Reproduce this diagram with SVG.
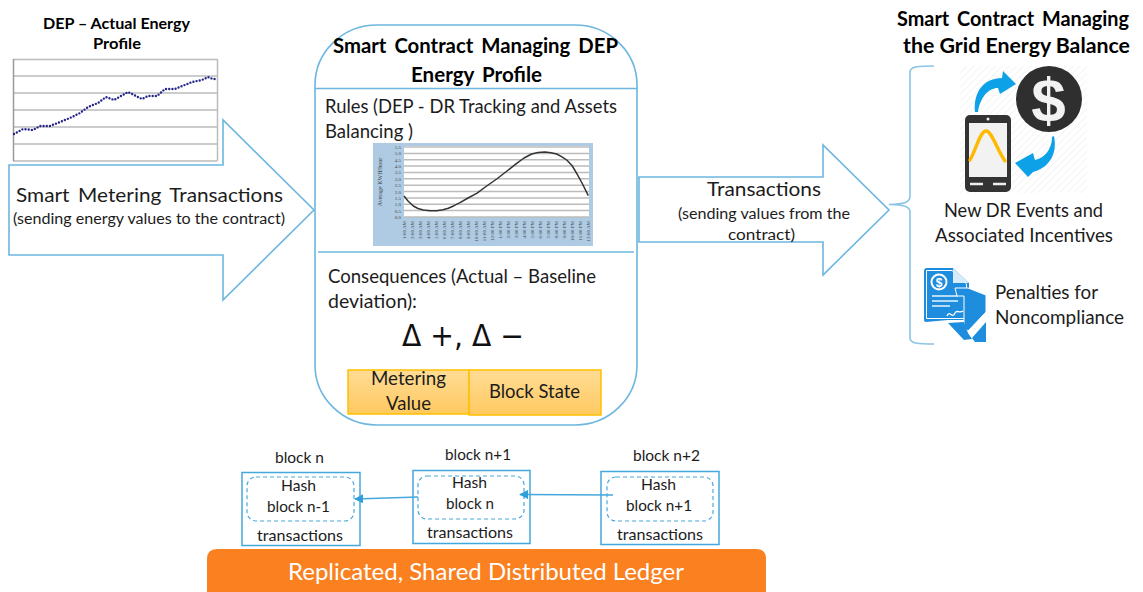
<svg xmlns="http://www.w3.org/2000/svg" width="1143" height="592" viewBox="0 0 1143 592">
<style>
text{font-family:Lato,"Liberation Sans",sans-serif;fill:#1c1c1c}
.t{font-size:19px}.s{font-size:14.5px}.m{font-size:15px}.b{font-weight:700;font-size:20px;fill:#000}
.w{word-spacing:3px}
.o{fill:#fff;stroke:#6db6df;stroke-width:1.6}
.bx{fill:#fff;stroke:#45a8dc;stroke-width:1.5}
.d{fill:#fff;stroke:#45a8dc;stroke-width:1.2;stroke-dasharray:4 3}
.g{stroke:#bcbcbc;stroke-width:1.5;fill:none}
.tk{font-family:"Liberation Serif",serif;font-size:5px;fill:#444}
.cell{fill:url(#gold);stroke:#ffc000;stroke-width:1.5}
</style>
<defs>
<linearGradient id="gold" x1="0" y1="0" x2="0" y2="1"><stop offset="0" stop-color="#ffdc96"/><stop offset="1" stop-color="#ffc95f"/></linearGradient>
<pattern id="hatch" width="5" height="5" patternUnits="userSpaceOnUse" patternTransform="rotate(-45)"><rect width="5" height="5" fill="#fff"/><rect width="5" height="1" fill="#f4f4f4"/></pattern>
<marker id="ah" viewBox="0 0 10 10" refX="9" refY="5" markerWidth="9" markerHeight="9" orient="auto" markerUnits="userSpaceOnUse"><path d="M0 0L10 5L0 10z" fill="#2e9fd8"/></marker>
</defs>
<rect width="1143" height="592" fill="#fff"/>

<g id="actual-profile">
<text class="b" style="font-size:14.5px" x="43" y="29" textLength="147" lengthAdjust="spacingAndGlyphs">DEP – Actual Energy</text>
<text class="b" style="font-size:14.5px" x="93" y="49" textLength="48" lengthAdjust="spacingAndGlyphs">Profile</text>
<path class="g" d="M13 59.500H217M13 76H217M13 93H217M13 110H217M13 127H217M13 144H217M13 161H217M217.500 59V161"/>
<path d="M13.500 59V161" stroke="#999" stroke-width="1.5" fill="none"/>
<polyline fill="none" stroke="#26268a" stroke-width="2.400" stroke-linecap="round" stroke-dasharray="0 3.200" points="14,134 23,129 33,130 40,126 50,126 60,122 70,118 80,113 88,107 98,103 106,97 114,100 128,92 142,99 148,96 157,96 165,89 175,89 192,82 202,80 208,77 213,79 217,79"/>
</g>

<g id="smart-metering-arrow">
<path class="o" d="M9 165H223V120L314 210L223 300V255H9Z"/>
<text class="t w" x="16" y="202" textLength="267" lengthAdjust="spacingAndGlyphs">Smart Metering Transactions</text>
<text class="s" x="13" y="224" textLength="272" lengthAdjust="spacingAndGlyphs">(sending energy values to the contract)</text>
</g>

<g id="contract">
<rect x="315" y="25" width="322" height="400" rx="62" ry="60" class="o"/>
<path d="M315 88.500H637M318 252H634" fill="none" stroke="#6db6df" stroke-width="1.500"/>
<text class="b w" x="333" y="53" textLength="285" lengthAdjust="spacingAndGlyphs">Smart Contract Managing DEP</text>
<text class="b w" x="411" y="82" textLength="131" lengthAdjust="spacingAndGlyphs">Energy Profile</text>
<text class="t" x="325" y="113" textLength="292" lengthAdjust="spacingAndGlyphs">Rules (DEP - DR Tracking and Assets</text>
<text class="t" x="325" y="138" textLength="88" lengthAdjust="spacingAndGlyphs">Balancing )</text>
<g id="baseline-chart">
<rect x="373" y="143" width="220" height="103" fill="#afcbe3"/>
<rect x="404" y="146" width="185" height="71" fill="#fff"/>
<path class="g" d="M404 147H589M404 153.400H589M404 159.700H589M404 166.100H589M404 172.500H589M404 178.800H589M404 185.200H589M404 191.500H589M404 197.900H589M404 204.300H589M404 210.600H589M404 217H589"/>
<polyline fill="none" stroke="#333" stroke-width="1.500" stroke-linejoin="round" points="404,196 408,201 413.300,206 418,208.500 423.300,210 430,210.800 436.700,210.700 443,209.800 448.300,208.300 454,205.700 460,202.700 468,198 476.700,193.300 486,186.500 496.700,179 507,171 516.700,163.300 524,158 531.700,154 538,152.500 545,152 551,152.700 556.700,154 562,156.800 566.700,160 572,165.500 576.700,173.300 582,183 588.300,195.700"/>
<g class="tk" text-anchor="end">
<text class="tk" x="401" y="149">5.5</text><text class="tk" x="401" y="155.300">5.0</text><text class="tk" x="401" y="161.700">4.5</text><text class="tk" x="401" y="168">4.0</text><text class="tk" x="401" y="174.400">3.5</text><text class="tk" x="401" y="180.800">3.0</text><text class="tk" x="401" y="187.100">2.5</text><text class="tk" x="401" y="193.500">2.0</text><text class="tk" x="401" y="199.800">1.5</text><text class="tk" x="401" y="206.200">1.0</text><text class="tk" x="401" y="212.600">0.5</text><text class="tk" x="401" y="219">0.0</text>
<text class="tk" style="font-size:6px" transform="translate(382,182) rotate(-90)" text-anchor="middle">Average KWH/hour</text>
<text class="tk" transform="translate(405.500,221) rotate(-90)">1:00 AM</text><text class="tk" transform="translate(413.500,221) rotate(-90)">2:00 AM</text><text class="tk" transform="translate(421.500,221) rotate(-90)">3:00 AM</text><text class="tk" transform="translate(429.500,221) rotate(-90)">4:00 AM</text><text class="tk" transform="translate(437.500,221) rotate(-90)">5:00 AM</text><text class="tk" transform="translate(445.500,221) rotate(-90)">6:00 AM</text><text class="tk" transform="translate(453.500,221) rotate(-90)">7:00 AM</text><text class="tk" transform="translate(461.500,221) rotate(-90)">8:00 AM</text><text class="tk" transform="translate(469.500,221) rotate(-90)">9:00 AM</text><text class="tk" transform="translate(477.500,221) rotate(-90)">10:00 AM</text><text class="tk" transform="translate(485.500,221) rotate(-90)">11:00 AM</text><text class="tk" transform="translate(493.500,221) rotate(-90)">12:00 PM</text><text class="tk" transform="translate(501.500,221) rotate(-90)">1:00 PM</text><text class="tk" transform="translate(509.500,221) rotate(-90)">2:00 PM</text><text class="tk" transform="translate(517.500,221) rotate(-90)">3:00 PM</text><text class="tk" transform="translate(525.500,221) rotate(-90)">4:00 PM</text><text class="tk" transform="translate(533.500,221) rotate(-90)">5:00 PM</text><text class="tk" transform="translate(541.500,221) rotate(-90)">6:00 PM</text><text class="tk" transform="translate(549.500,221) rotate(-90)">7:00 PM</text><text class="tk" transform="translate(557.500,221) rotate(-90)">8:00 PM</text><text class="tk" transform="translate(565.500,221) rotate(-90)">9:00 PM</text><text class="tk" transform="translate(573.500,221) rotate(-90)">10:00 PM</text><text class="tk" transform="translate(581.500,221) rotate(-90)">11:00 PM</text><text class="tk" transform="translate(589.500,221) rotate(-90)">12:00 AM</text>
</g>
</g>
<text class="t" x="328" y="283" textLength="268" lengthAdjust="spacingAndGlyphs">Consequences (Actual – Baseline</text>
<text class="t" x="328" y="308" textLength="89" lengthAdjust="spacingAndGlyphs">deviation):</text>
<text x="402" y="346" textLength="122" lengthAdjust="spacingAndGlyphs" style="font-family:'DejaVu Sans',sans-serif;font-size:30px;fill:#111">Δ +, Δ −</text>
</g>

<g id="metering-value">
<rect class="cell" x="348" y="370" width="121" height="44"/>
<text class="t" x="371" y="385" textLength="75" lengthAdjust="spacingAndGlyphs">Metering</text>
<text class="t" x="386" y="410" textLength="45" lengthAdjust="spacingAndGlyphs">Value</text>
</g>
<g id="block-state">
<rect class="cell" x="469" y="370" width="132" height="45"/>
<text class="t" x="489" y="398" textLength="91" lengthAdjust="spacingAndGlyphs">Block State</text>
</g>

<g id="transactions-arrow">
<path class="o" d="M639 177H823V145L889 210L823 275V242H639Z"/>
<text class="t" x="707" y="196" textLength="114" lengthAdjust="spacingAndGlyphs">Transactions</text>
<text class="s" x="678" y="219" textLength="172" lengthAdjust="spacingAndGlyphs">(sending values from the</text>
<text class="s" x="728" y="240" textLength="67" lengthAdjust="spacingAndGlyphs">contract)</text>
</g>

<g id="grid-balance">
<text class="b w" x="897" y="26" textLength="232" lengthAdjust="spacingAndGlyphs">Smart Contract Managing</text>
<text class="b" x="903" y="53" textLength="227" lengthAdjust="spacingAndGlyphs">the Grid Energy Balance</text>
<path d="M934 66C920 66 910 66 910 72V196C910 203 903 204 889 204.500C903 205 910 206 910 212V338C910 344 920 344 934 344" fill="none" stroke="#8ac4e6" stroke-width="1.600"/>
<g id="dr-icon">
<rect x="960" y="66" width="127" height="127" fill="url(#hatch)"/>
<circle cx="1049" cy="99" r="33" fill="#2f2f2f"/>
<text x="1048.500" y="121" text-anchor="middle" style="font-family:'Liberation Sans',sans-serif;font-size:62px;font-weight:700;fill:#f2f2f2">$</text>
<rect x="965" y="115" width="46" height="77" rx="5" fill="#333"/>
<rect x="969" y="123" width="38" height="54" fill="#f2f2f2"/>
<circle cx="988" cy="119" r="1.500" fill="#eee"/>
<path d="M970 184H983M993 184H1006" stroke="#eee" stroke-width="2.500"/>
<path d="M970 160C976 150 980 131 986 131C992 131 997 150 1005 161" fill="none" stroke="#ffb900" stroke-width="3.400" stroke-linecap="round"/>
<path d="M975 112C973 92 984 78 1002 78L1003 71L1016 84L1000 94L998 88C988 88 980 98 978 112Z" fill="#0da2e7"/>
<path d="M1054 136C1058 155 1048 168 1033 172L1028 177L1015 163L1033 153L1035 160C1044 158 1052 150 1052 137Z" fill="#0da2e7"/>
</g>
<text class="t" x="944" y="217" textLength="159" lengthAdjust="spacingAndGlyphs">New DR Events and</text>
<text class="t" x="935" y="242" textLength="178" lengthAdjust="spacingAndGlyphs">Associated Incentives</text>
<g id="penalty-icon">
<path d="M924 271C924 269 925 268 927 268H953L969 283V320H948L926 322C925 322 924 321 924 320Z" fill="#1f8ddd"/>
<path d="M926.500 270.500H952L966.500 284V318.500H926.500Z" fill="none" stroke="#fff" stroke-width="1"/>
<path d="M953 268V283H969Z" fill="#d7ecfa"/>
<circle cx="939" cy="282" r="8.500" fill="#fff"/>
<circle cx="939" cy="282" r="6.500" fill="#1f8ddd"/>
<text x="939" y="286.500" text-anchor="middle" style="font-family:'Liberation Sans',sans-serif;font-size:12px;font-weight:700;fill:#fff">$</text>
<path d="M932 296H958M932 301H958M932 306H950" stroke="#e6f3fc" stroke-width="1.500"/>
<path d="M947 316C950 309 952 320 955 313C957 309 959 314 963 311" fill="none" stroke="#fff" stroke-width="1.300"/>
<path d="M955 288H968L986 295V312L968 331L964 327V296H957Z" fill="#1f8ddd" stroke="#fff" stroke-width="1"/>
<path d="M948 323L964 322L968 333L972 339L964 340Z" fill="#1f8ddd"/>
<path d="M972 338L986 322V342H975Z" fill="#1f8ddd"/>
</g>
<text class="t" x="995" y="299" textLength="103" lengthAdjust="spacingAndGlyphs">Penalties for</text>
<text class="t" x="995" y="324" textLength="129" lengthAdjust="spacingAndGlyphs">Noncompliance</text>
</g>

<g id="block-n">
<text class="m" x="275" y="463" textLength="49" lengthAdjust="spacingAndGlyphs">block n</text>
<rect class="bx" x="242" y="472.500" width="118" height="73"/>
<rect class="d" x="247" y="477" width="107" height="44" rx="9"/>
<text class="m" x="281" y="491" textLength="35" lengthAdjust="spacingAndGlyphs">Hash</text>
<text class="m" x="267" y="512" textLength="63" lengthAdjust="spacingAndGlyphs">block n-1</text>
<text class="m" x="257" y="541" textLength="86" lengthAdjust="spacingAndGlyphs">transactions</text>
</g>
<g id="block-n1">
<text class="m" x="445" y="460" textLength="66" lengthAdjust="spacingAndGlyphs">block n+1</text>
<rect class="bx" x="413" y="470.500" width="117" height="73"/>
<rect class="d" x="418" y="476" width="106" height="43" rx="9"/>
<text class="m" x="452" y="488" textLength="35" lengthAdjust="spacingAndGlyphs">Hash</text>
<text class="m" x="446" y="509" textLength="48" lengthAdjust="spacingAndGlyphs">block n</text>
<text class="m" x="427" y="538" textLength="86" lengthAdjust="spacingAndGlyphs">transactions</text>
</g>
<g id="block-n2">
<text class="m" x="633" y="461" textLength="67" lengthAdjust="spacingAndGlyphs">block n+2</text>
<rect class="bx" x="601" y="471.500" width="118" height="73"/>
<rect class="d" x="607" y="477" width="106" height="44" rx="9"/>
<text class="m" x="641" y="490" textLength="35" lengthAdjust="spacingAndGlyphs">Hash</text>
<text class="m" x="626" y="511" textLength="66" lengthAdjust="spacingAndGlyphs">block n+1</text>
<text class="m" x="617" y="540" textLength="86" lengthAdjust="spacingAndGlyphs">transactions</text>
</g>

<g id="connectors">
<path d="M418 497L355 499" fill="none" stroke="#45a8dc" stroke-width="1.300" marker-end="url(#ah)"/>
<path d="M613 495L520 494.500" fill="none" stroke="#45a8dc" stroke-width="1.300" marker-end="url(#ah)"/>
</g>

<g id="ledger">
<path d="M207 592V559Q207 549 217 549H756Q766 549 766 559V592Z" fill="#fb8020"/>
<text x="288" y="580" textLength="396" lengthAdjust="spacingAndGlyphs" style="font-size:23px;fill:#fff">Replicated, Shared Distributed Ledger</text>
</g>
</svg>
